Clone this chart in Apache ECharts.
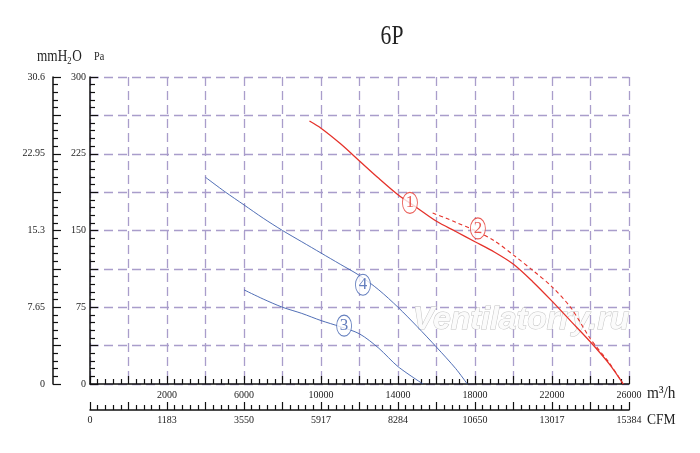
<!DOCTYPE html>
<html>
<head>
<meta charset="utf-8">
<script src="https://cdn.jsdelivr.net/npm/echarts@6/dist/echarts.min.js"></script>
<style>html,body{margin:0;padding:0;background:#fff}#c{width:700px;height:453px}</style>
</head>
<body>
<div id="c"></div>
<script>
// ---- data (m3/h, Pa) ----
const curve1 = [[9400,257],[10000,250],[11000,235],[12000,218],[13000,201],[14000,185],[15000,172],[16000,159],[17000,149],[18000,139],[19000,129],[20000,117],[21000,100],[22000,81],[23000,61],[24000,41],[25000,19],[25700,0]];
const curve2 = [[15800,167],[16500,162],[17000,158],[18000,150],[19000,140],[20000,126],[21000,111],[22000,95],[23000,74],[24000,44],[25000,20],[25700,0]];
const curve3 = [[6000,92],[7000,83],[8000,75],[9000,69],[10000,62],[11000,56],[12000,49],[13000,35],[14000,17],[15300,0]];
const curve4 = [[4000,202],[5000,188],[6000,175],[7000,162],[8000,150],[9000,139],[10000,128],[11000,117],[12000,106],[13000,92],[14000,75],[15000,56],[16000,36],[17000,15],[17600,0]];
const curveNames = ['1','2','3','4'];
const curveLabelPoints = [[14620,177,'1'],[18150,152,'2'],[11200,57,'3'],[12180,97,'4']];
// ---- tick labels ----
const flowTickValues = [-2000,2000,6000,10000,14000,18000,22000,26000];
const flowLabels = ['','2000','6000','10000','14000','18000','22000','26000'];
const cfmLabels = ['0','1183','3550','5917','8284','10650','13017','15384'];
const paLabels = ['0','75','150','225','300'];
const mmLabels = ['0','7.65','15.3','22.95','30.6'];

const RED = '#e5322b', BLUE = '#3d5fae', GRID = '#a99dcb';
const FONT = 'Liberation Serif';
const labelStyle = {fontFamily: FONT, fontSize: 10, color: '#222'};

function flowLabel(v, arr){
  const i = flowTickValues.indexOf(Math.round(v));
  return i >= 0 ? arr[i] : '';
}

const chart = echarts.init(document.getElementById('c'));
const tickCommon = {
  axisLine: {show: true, onZero: false, lineStyle: {color: '#111', width: 1.5}},
  axisTick: {show: true, inside: true, length: 8, lineStyle: {color: '#111', width: 1.2}},
  minorTick: {show: true, splitNumber: 5, length: 5, lineStyle: {color: '#111', width: 1.2}}
};

chart.setOption({
  animation: false,
  backgroundColor: '#fff',
  grid: {left: 90, right: 71, top: 77, bottom: 69, containLabel: false},
  xAxis: [
    Object.assign({
      type: 'value', min: -2000, max: 26000, interval: 2000, position: 'bottom',
      splitLine: {show: true, lineStyle: {color: GRID, type: [9, 5], width: 1.3}},
      axisLabel: Object.assign({margin: 6, formatter: v => flowLabel(v, flowLabels)}, labelStyle)
    }, tickCommon),
    Object.assign({
      type: 'value', min: -2000, max: 26000, interval: 2000, position: 'bottom', offset: 26,
      splitLine: {show: false},
      axisLabel: Object.assign({margin: 5, formatter: v => flowLabel(v, cfmLabels)}, labelStyle)
    }, tickCommon)
  ],
  yAxis: [
    Object.assign({
      type: 'value', min: 0, max: 300, interval: 37.5, position: 'left',
      splitLine: {show: true, lineStyle: {color: GRID, type: [9, 5], width: 1.3}},
      axisLabel: Object.assign({margin: 4, formatter: (v, i) => (i % 2 === 0 ? paLabels[i / 2] : '')}, labelStyle)
    }, tickCommon),
    Object.assign({
      type: 'value', min: 0, max: 30.6, interval: 3.825, position: 'left', offset: 37,
      splitLine: {show: false},
      axisLabel: Object.assign({margin: 8, formatter: (v, i) => (i % 2 === 0 ? mmLabels[i / 2] : '')}, labelStyle)
    }, tickCommon)
  ],
  graphic: [
    {type: 'text', x: 392, y: 37, scaleX: 0.8, z: 10,
     style: {text: '6P', font: '27px "Liberation Serif"', fill: '#222', align: 'center', verticalAlign: 'middle'}},
    {type: 'text', x: 37, y: 57, scaleX: 0.78, z: 10,
     style: {text: '{a|mmH}{s|2}{a|O}', verticalAlign: 'middle', fill: '#222',
       rich: {a: {fontFamily: FONT, fontSize: 17, fill: '#222'},
              s: {fontFamily: FONT, fontSize: 11, fill: '#222', padding: [9, 1, 0, 0]}}}},
    {type: 'text', x: 94, y: 57, scaleX: 0.85, z: 10,
     style: {text: 'Pa', font: '12px "Liberation Serif"', fill: '#222', verticalAlign: 'middle'}},
    {type: 'text', x: 647, y: 394, scaleX: 0.9, z: 10,
     style: {text: 'm³/h', font: '17px "Liberation Serif"', fill: '#222', verticalAlign: 'middle'}},
    {type: 'text', x: 647, y: 420, scaleX: 0.9, z: 10,
     style: {text: 'CFM', font: '15px "Liberation Serif"', fill: '#222', verticalAlign: 'middle'}},
    {type: 'text', x: 521, y: 320, z: 1,
     style: {text: 'Ventilatorry.ru', font: 'italic bold 32px "Liberation Sans"', fill: '#fbfbfb',
             stroke: '#c4c4c4', lineWidth: 1, align: 'center', verticalAlign: 'middle'}}
  ],
  series: [
    {name: curveNames[0], type: 'line', data: curve1, smooth: 0.3, showSymbol: false, z: 3,
     lineStyle: {color: RED, width: 1.3}},
    {name: curveNames[1], type: 'line', data: curve2, smooth: 0.3, showSymbol: false, z: 3,
     lineStyle: {color: RED, width: 1.1, type: [4, 3]}},
    {name: curveNames[2], type: 'line', data: curve3, smooth: 0.3, showSymbol: false, z: 3,
     lineStyle: {color: BLUE, width: 0.9}},
    {name: curveNames[3], type: 'line', data: curve4, smooth: 0.3, showSymbol: false, z: 3,
     lineStyle: {color: BLUE, width: 0.9}},
    {type: 'scatter', z: 5, symbol: 'circle', symbolSize: [15, 21],
     data: curveLabelPoints.map(p => ({
       value: [p[0], p[1]],
       itemStyle: {color: '#fff', borderColor: (p[2] === '1' || p[2] === '2') ? RED : BLUE, borderWidth: 1},
       label: {show: true, position: 'inside', formatter: p[2], fontFamily: FONT, fontSize: 17,
               color: (p[2] === '1' || p[2] === '2') ? RED : BLUE}
     }))}
  ]
});
</script>
</body>
</html>
